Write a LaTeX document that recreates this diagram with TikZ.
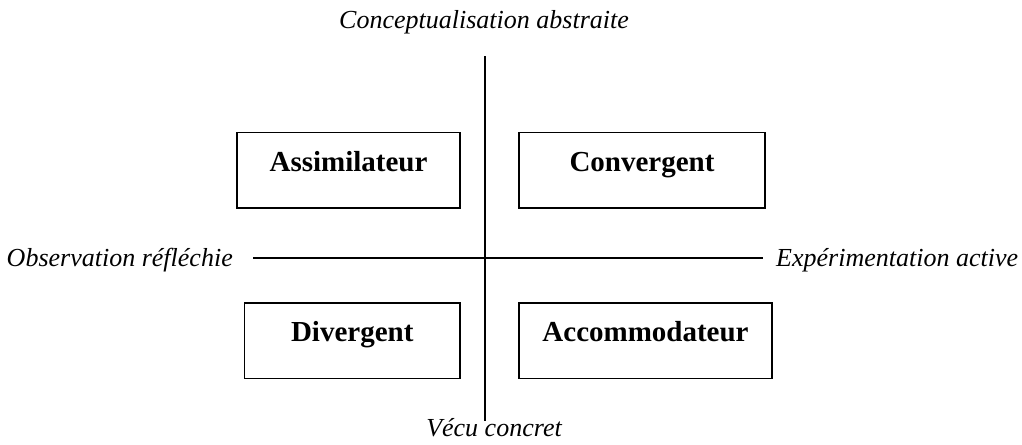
\documentclass[tikz,border=0pt]{standalone}
\usepackage{fontspec}
\setmainfont{Liberation Serif}
\definecolor{Ink}{HTML}{000000}
\definecolor{Paper}{HTML}{FFFFFF}
\tikzset{stylebox/.style={draw=Ink,line width=.9pt,inner xsep=0pt,inner ysep=0pt,anchor=base,text height=.77cm,text depth=.74cm,font=\fontsize{16.5}{19}\selectfont\bfseries},
axislabel/.style={font=\fontsize{14.8}{17}\selectfont\itshape}}

\begin{document}
\begin{tikzpicture}[every node/.style={text=Ink}]
\fill[Paper] (0,0) rectangle (20.44,8.88);\useasboundingbox (0,0) rectangle (20.44,8.88);
\node[axislabel,anchor=base](concept) at (9.68,8.32){Conceptualisation abstraite};\node[axislabel,anchor=base](vecu) at (9.88,.16){Vécu concret};
\node[axislabel,anchor=base east](obs) at (4.78,3.56){Observation réfléchie};\node[axislabel,anchor=base west](exp) at (15.40,3.56){Expérimentation active};
\coordinate(axtop)at(9.70,7.76);\coordinate(axbot)at(9.70,.46);\coordinate(axleft)at(5.06,3.72);\coordinate(axright)at(15.26,3.72);
\draw[line width=1.1pt](axtop)--(axbot);\draw[line width=1.1pt](axleft)--(axright);
\node[stylebox,minimum width=4.46cm](assim) at (6.97,5.46){Assimilateur};\node[stylebox,minimum width=4.92cm](conv) at (12.84,5.46){Convergent};
\node[stylebox,minimum width=4.31cm](div) at (7.045,2.05){Divergent};\node[stylebox,minimum width=5.06cm](accom) at (12.91,2.05){Accommodateur};
\end{tikzpicture}
\end{document}
